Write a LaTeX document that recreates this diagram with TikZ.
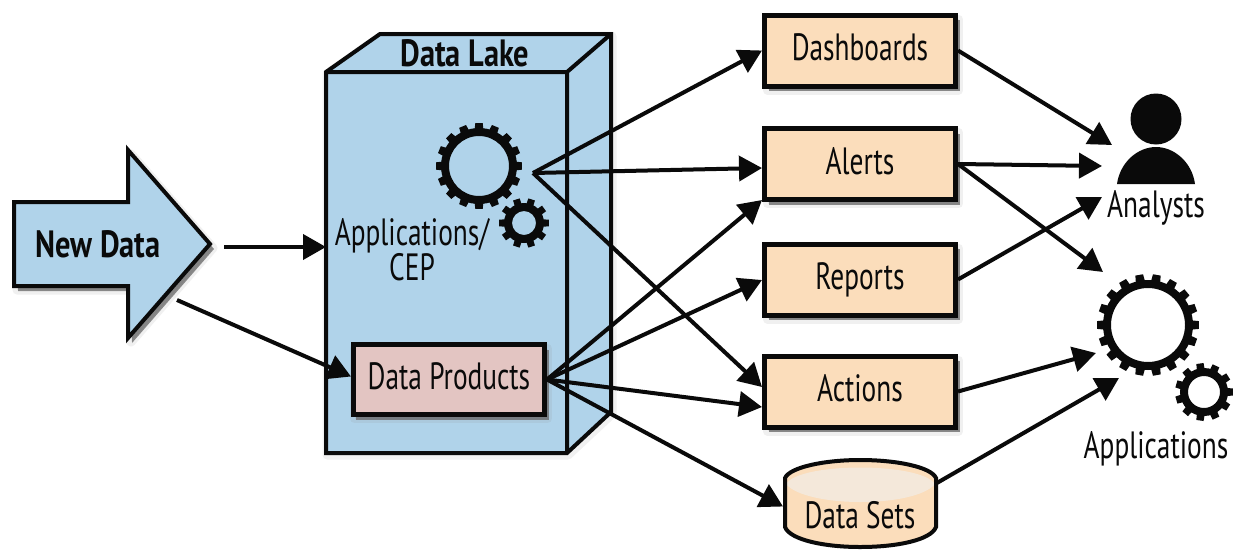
\documentclass[tikz,border=0pt]{standalone}
\usepackage{fontspec}
\setmainfont[FakeStretch=0.72,BoldFeatures={FakeStretch=0.8}]{PT Sans}
\usetikzlibrary{arrows.meta,calc}
\definecolor{lakeblue}{HTML}{B0D3EA}
\definecolor{boxorange}{HTML}{FBDDBB}
\definecolor{boxpink}{HTML}{E3C5C2}
\definecolor{dsettop}{HTML}{F4E8DA}
\definecolor{ink}{HTML}{0A0A0A}
\newcommand{\softshadow}[1]{%
  \fill[black!45!white,opacity=.13,draw=black!45!white,line width=9pt,line join=round,shift={(3,4)}] #1;
  \fill[black!60!white,opacity=.75,shift={(4,5)}] #1;}
\tikzset{
  x=1pt,y=-1pt,
  conn/.style={draw=ink,line width=4pt,-{Triangle[length=23pt,width=25pt]}},
  bordered/.style={draw=ink,line width=4pt,line join=miter},
  label text/.style={font=\fontsize{38}{35}\selectfont,text=ink,inner sep=0pt,align=center},
  bold text/.style={font=\fontsize{38}{35}\selectfont\bfseries,text=ink,inner sep=0pt},
  stagebox/.style={draw=ink,line width=5pt,fill=boxorange,minimum width=191pt,minimum height=71pt,outer sep=2.5pt,
    font=\fontsize{38}{35}\selectfont,text=ink,inner sep=0pt,text height=26pt,text depth=6pt},
  productbox/.style={stagebox,fill=boxpink,minimum width=191pt,minimum height=70pt},
  ghost/.style={minimum width=#1,outer sep=0pt,inner sep=0pt},
}
\newcommand{\drawgear}[6]{%
  \pgfmathsetmacro{\gstep}{360/#6}
  \pgfmathtruncatemacro{\glast}{#6-1}
  \fill[ink,even odd rule] (#1,#2) circle[radius=#5]
   (#1,#2) circle[radius=#3];
  \foreach \k in {0,...,\glast}{
    \pgfmathsetmacro{\ga}{\k*\gstep}
    \fill[ink] ([shift={(\ga-.3*\gstep:#3-1)}]#1,#2) -- ([shift={(\ga-.22*\gstep:#4)}]#1,#2)
       -- ([shift={(\ga+.22*\gstep:#4)}]#1,#2) -- ([shift={(\ga+.3*\gstep:#3-1)}]#1,#2) -- cycle;
  }}
\begin{document}
\begin{tikzpicture}
\useasboundingbox (0,0) rectangle (1233,549);
\fill[white] (0,0) rectangle (1233,549);

% New Data arrow
\def\arrowpath{(14,202) -- (128,202) -- (128,150) -- (210,244) -- (128,338) -- (128,286) -- (14,286) -- cycle}
\softshadow{\arrowpath}
\path[bordered,fill=lakeblue] \arrowpath;
\node[bold text] (newdata) at (98,244) {New Data};
\coordinate (newA) at (224,247);
\coordinate (newB) at (177,300);

% Data Lake block
\def\lakepath{(326,72) -- (380,34) -- (611,34) -- (611,412) -- (567,453) -- (326,453) -- cycle}
\fill[black!45!white,opacity=.12,draw=black!45!white,line width=9pt,line join=round,shift={(1,2)}] \lakepath;
\path[bordered,fill=lakeblue] \lakepath;
\draw[bordered] (326,72) -- (567,72) -- (567,453) (567,72) -- (611,34);
\node[bold text] (lake) at (465,53) {Data Lake};
\node[ghost=241pt,minimum height=381pt] (lakefront) at (446.5,262.5) {};

\drawgear{479}{166}{38}{43}{30}{16}
\drawgear{524}{223}{20}{25}{12}{10}
\coordinate (hub) at (533,173);
\node[label text] (apps) at (412,250) {Applications/\\CEP};

% Data Products
\softshadow{(351.5,344.5) rectangle (544.5,414.5)}
\node[productbox] (products) at (449,379.5) {Data Products};

% Stage boxes
\foreach \nm/\cy/\lab in {dash/50.5/Dashboards,alerts/164/Alerts,reports/279.5/Reports,actions/391.5/Actions}{
  \softshadow{(764.5,\cy-35.5) rectangle (955.5,\cy+35.5)}
  \node[stagebox] (\nm) at (860,\cy) {\lab};
}

% Data Sets
\def\dsetpath{(785,478) .. controls (790,467) and (825,460) .. (860,460) .. controls (897,460) and (931,467) .. (936,478) -- (936,527) .. controls (931,540) and (897,547) .. (860,547) .. controls (825,547) and (790,540) .. (785,527) -- cycle}
\path[fill=boxorange] \dsetpath;
\fill[dsettop] (786,484) .. controls (800,462) and (920,462) .. (935,484) .. controls (915,508) and (806,508) .. (786,484) -- cycle;
\draw[bordered] \dsetpath;
\node[label text] (dsets) at (860,515) {Data Sets};
\node[ghost=151pt,minimum height=87pt] (dsetbox) at (860.5,503.5) {};

% Analysts
\fill[ink] (1156,119) circle[radius=25.5];
\fill[ink] (1117,184) .. controls (1120,162) and (1138,147) .. (1156,147) .. controls (1174,147) and (1192,162) .. (1195,184) -- cycle;
\node[label text] (analysts) at (1156,208) {Analysts};
\coordinate (anaA) at (1112,145);
\coordinate (anaB) at (1102,166);
\coordinate (anaC) at (1102,197);

% Applications
\drawgear{1148}{325}{45}{51}{37}{18}
\drawgear{1204}{392}{24}{29}{16}{11}
\node[label text] (applications) at (1156,449) {Applications};
\coordinate (appA) at (1103,272);
\coordinate (appB) at (1096,353);
\coordinate (appC) at (1119,378);

% Connectors
\draw[conn] (newA) -- (lakefront.west |- newA);
\draw[conn] (newB) -- ([yshift=3pt]products.west);
\draw[conn] (hub) -- (dash.west);
\draw[conn] (hub) -- ([yshift=-4pt]alerts.west);
\draw[conn] (hub) -- ([yshift=4.5pt]actions.west);
\draw[conn] (products.east) -- ([yshift=-36pt]alerts.west);
\draw[conn] (products.east) -- ([yshift=-0.5pt]reports.west);
\draw[conn] (products.east) -- ([yshift=-15.5pt]actions.west);
\draw[conn] (products.east) -- ([xshift=-2pt,yshift=-3pt]dsetbox.west);
\draw[conn] (dash.east) -- (anaA);
\draw[conn] (alerts.east) -- (anaB);
\draw[conn] (alerts.east) -- (appA);
\draw[conn] (reports.east) -- (anaC);
\draw[conn] (actions.east) -- (appB);
\draw[conn] ([yshift=20pt]dsetbox.east) -- (appC);
\end{tikzpicture}
\end{document}
